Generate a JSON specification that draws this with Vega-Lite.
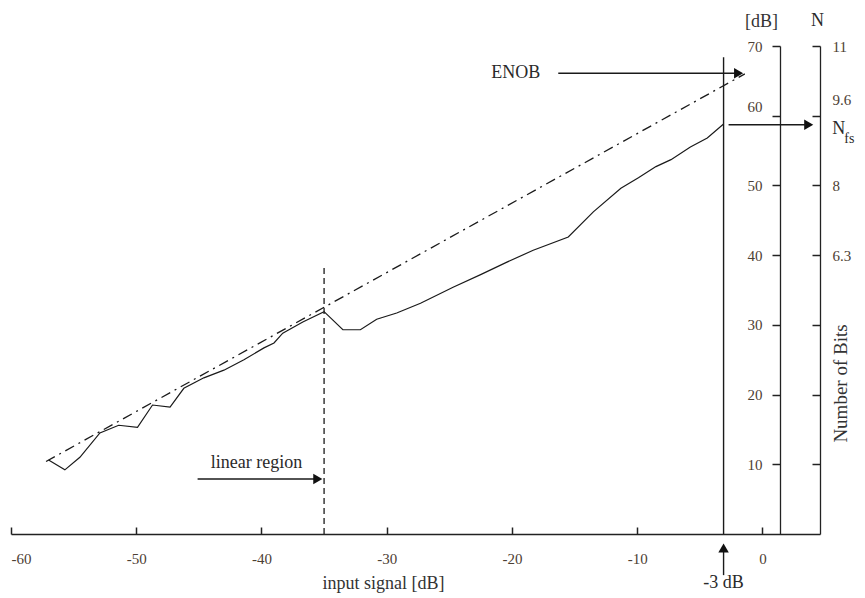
{
  "$schema": "https://vega.github.io/schema/vega-lite/v6.json",
  "width": 809,
  "height": 488,
  "autosize": {"type": "none"},
  "padding": {"left": 11, "top": 46, "right": 45, "bottom": 64},
  "background": "white",
  "config": {
    "view": {"stroke": null},
    "font": "Liberation Serif",
    "axis": {
      "grid": false,
      "ticks": true,
      "domainColor": "#222222",
      "domainWidth": 1.3,
      "tickColor": "#222222",
      "tickWidth": 1.5,
      "tickOpacity": 1,
      "labelFont": "Liberation Serif",
      "titleFont": "Liberation Serif",
      "labelFontSize": 15,
      "labelColor": "#4d4033",
      "titleColor": "#333333",
      "titleFontWeight": "normal"
    }
  },
  "datasets": {
    "snr": [
      {"x": -57.0, "y": 10.6}, {"x": -55.7, "y": 9.2}, {"x": -54.5, "y": 11.0},
      {"x": -52.9, "y": 14.5}, {"x": -51.4, "y": 15.6}, {"x": -49.9, "y": 15.3},
      {"x": -48.7, "y": 18.5}, {"x": -47.3, "y": 18.2}, {"x": -46.2, "y": 20.9},
      {"x": -44.6, "y": 22.4}, {"x": -43.0, "y": 23.5}, {"x": -41.4, "y": 25.0},
      {"x": -39.8, "y": 26.7}, {"x": -39.0, "y": 27.4}, {"x": -38.3, "y": 28.8},
      {"x": -36.7, "y": 30.4}, {"x": -35.0, "y": 31.9}, {"x": -33.5, "y": 29.3},
      {"x": -32.1, "y": 29.3}, {"x": -30.8, "y": 30.8}, {"x": -29.2, "y": 31.7},
      {"x": -27.3, "y": 33.1}, {"x": -24.7, "y": 35.4}, {"x": -22.5, "y": 37.2},
      {"x": -20.4, "y": 39.0}, {"x": -18.3, "y": 40.7}, {"x": -15.5, "y": 42.6},
      {"x": -13.5, "y": 46.2}, {"x": -11.3, "y": 49.6}, {"x": -9.9, "y": 51.1},
      {"x": -8.5, "y": 52.7}, {"x": -7.3, "y": 53.7}, {"x": -5.75, "y": 55.5},
      {"x": -4.4, "y": 56.8}, {"x": -3.1, "y": 58.8}
    ],
    "enob": [{"x": -57.2, "y": 10.4}, {"x": -1.4, "y": 66.0}],
    "vsolid": [
      {"x": -3.1, "y": 0, "y2": 68.4},
      {"x": -3.1, "y": -5.9, "y2": -2.0}
    ],
    "vdashed": [{"x": -35.0, "y": 0, "y2": 38.2}],
    "harrows": [
      {"x": -16.3, "x2": -2.2, "y": 66.1},
      {"x": -45.1, "x2": -35.8, "y": 7.9}
    ],
    "nfsarrow": [{"x": -2.7, "x2": 3.5, "y": 58.7}],
    "headsRight": [
      {"x": -1.9, "y": 66.1},
      {"x": -35.5, "y": 7.9},
      {"x": 3.7, "y": 58.7}
    ],
    "headsUp": [{"x": -3.1, "y": -2.0}],
    "labels": [
      {"x": -19.7, "y": 66.1, "label": "ENOB"},
      {"x": -40.4, "y": 10.2, "label": "linear region"},
      {"x": -3.1, "y": -7.0, "label": "-3 dB"},
      {"x": 4.4, "y": 73.6, "label": "N"},
      {"x": 6.1, "y": 58.1, "label": "N"}
    ],
    "subs": [{"x": 6.95, "y": 56.6, "label": "fs"}]
  },
  "layer": [
    {
      "layer": [
        {
          "data": {"name": "snr"},
          "mark": {"type": "line", "color": "#1a1a1a", "strokeWidth": 1.2},
          "encoding": {
            "x": {
              "field": "x", "type": "quantitative",
              "scale": {"domain": [-60, 4.6], "nice": false, "zero": false},
              "axis": {
                "orient": "bottom",
                "values": [-60, -50, -40, -30, -20, -10, 0],
                "labelExpr": "'' + datum.value",
                "tickSize": -7,
                "labelPadding": 24,
                "title": "input signal [dB]",
                "titleFontSize": 18,
                "titleX": 372,
                "titleY": 49,
                "titleAlign": "center",
                "titleBaseline": "middle"
              }
            },
            "y": {
              "field": "y", "type": "quantitative",
              "scale": {"domain": [0, 70], "nice": false},
              "axis": {
                "orient": "left",
                "offset": -769,
                "values": [10, 20, 30, 40, 50, 60, 70],
                "tickSize": 8,
                "labelPadding": 10,
                "labelOffset": {"condition": {"test": "datum.value == 60", "value": -9}, "value": 0},
                "title": "[dB]",
                "titleFontSize": 18,
                "titleAngle": 0,
                "titleX": -19,
                "titleY": -25,
                "titleAlign": "center",
                "titleBaseline": "middle"
              }
            }
          }
        },
        {
          "data": {"name": "enob"},
          "mark": {"type": "line", "color": "#1a1a1a", "strokeWidth": 1.3, "strokeDash": [10, 5, 2, 5]},
          "encoding": {
            "x": {"field": "x", "type": "quantitative"},
            "y": {"field": "y", "type": "quantitative"}
          }
        },
        {
          "data": {"name": "vsolid"},
          "mark": {"type": "rule", "color": "#1a1a1a", "strokeWidth": 1.4},
          "encoding": {
            "x": {"field": "x", "type": "quantitative"},
            "y": {"field": "y", "type": "quantitative"},
            "y2": {"field": "y2"}
          }
        },
        {
          "data": {"name": "vdashed"},
          "mark": {"type": "rule", "color": "#1a1a1a", "strokeWidth": 1.3, "strokeDash": [6, 4]},
          "encoding": {
            "x": {"field": "x", "type": "quantitative"},
            "y": {"field": "y", "type": "quantitative"},
            "y2": {"field": "y2"}
          }
        },
        {
          "data": {"name": "harrows"},
          "mark": {"type": "rule", "color": "#1a1a1a", "strokeWidth": 1.4},
          "encoding": {
            "x": {"field": "x", "type": "quantitative"},
            "x2": {"field": "x2"},
            "y": {"field": "y", "type": "quantitative"}
          }
        },
        {
          "data": {"name": "headsRight"},
          "mark": {"type": "point", "shape": "triangle-right", "filled": true, "color": "#111111", "size": 110, "opacity": 1},
          "encoding": {
            "x": {"field": "x", "type": "quantitative"},
            "y": {"field": "y", "type": "quantitative"}
          }
        },
        {
          "data": {"name": "headsUp"},
          "mark": {"type": "point", "shape": "triangle-up", "filled": true, "color": "#111111", "size": 110, "opacity": 1},
          "encoding": {
            "x": {"field": "x", "type": "quantitative"},
            "y": {"field": "y", "type": "quantitative"}
          }
        },
        {
          "data": {"name": "labels"},
          "mark": {"type": "text", "font": "Liberation Serif", "fontSize": 18, "color": "#2a2a2a", "align": "center", "baseline": "middle"},
          "encoding": {
            "x": {"field": "x", "type": "quantitative"},
            "y": {"field": "y", "type": "quantitative"},
            "text": {"field": "label"}
          }
        },
        {
          "data": {"name": "subs"},
          "mark": {"type": "text", "font": "Liberation Serif", "fontSize": 14, "color": "#2a2a2a", "align": "center", "baseline": "middle"},
          "encoding": {
            "x": {"field": "x", "type": "quantitative"},
            "y": {"field": "y", "type": "quantitative"},
            "text": {"field": "label"}
          }
        }
      ]
    },
    {
      "data": {"name": "nfsarrow"},
      "mark": {"type": "rule", "color": "#1a1a1a", "strokeWidth": 1.4},
      "encoding": {
        "x": {"field": "x", "type": "quantitative"},
        "x2": {"field": "x2"},
        "y": {
          "field": "y", "type": "quantitative",
          "scale": {"domain": [0, 70], "nice": false},
          "axis": {
            "orient": "right",
            "values": [10, 20, 30, 40, 50, 60, 70],
            "tickSize": -8,
            "labelPadding": 20,
            "labelAlign": "left",
            "labelExpr": "datum.value == 70 ? '11' : datum.value == 60 ? '9.6' : datum.value == 50 ? '8' : datum.value == 40 ? '6.3' : ''",
            "labelOffset": {"condition": {"test": "datum.value == 60", "value": -16}, "value": 0},
            "title": "Number of Bits",
            "titleFontSize": 19,
            "titleAngle": 270,
            "titleX": 20,
            "titleY": 337,
            "titleAlign": "center",
            "titleBaseline": "middle"
          }
        }
      }
    }
  ],
  "resolve": {"scale": {"y": "independent"}}
}
